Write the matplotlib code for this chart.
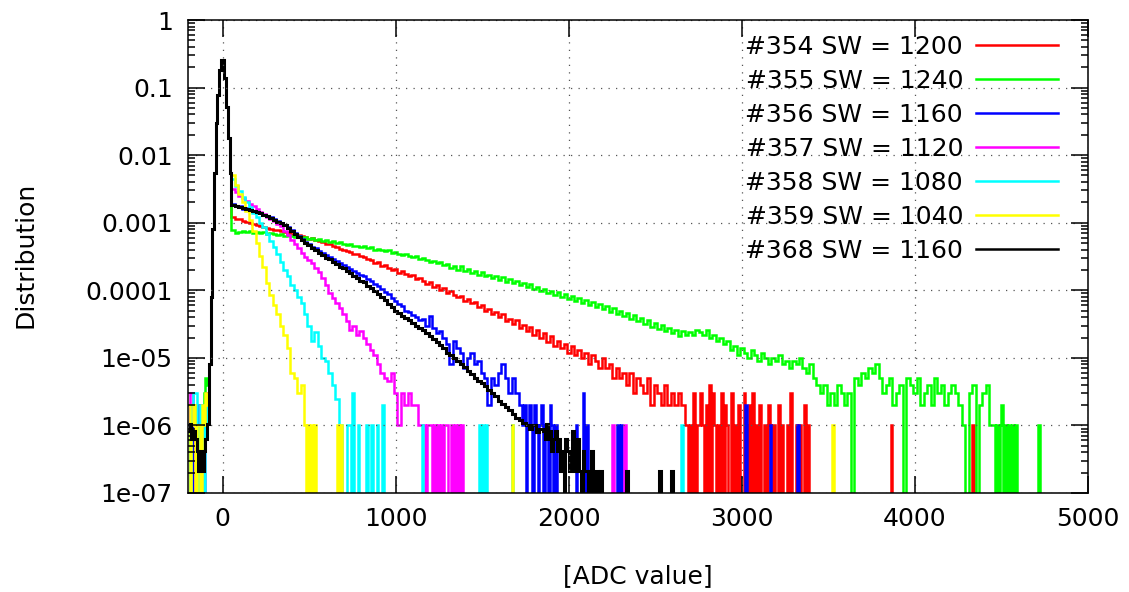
import numpy as np
import matplotlib
matplotlib.use('Agg')
import matplotlib.pyplot as plt
from matplotlib.lines import Line2D
from matplotlib.ticker import LogLocator, NullFormatter

labels = ['#354 SW = 1200', '#355 SW = 1240', '#356 SW = 1160', '#357 SW = 1120',
          '#358 SW = 1080', '#359 SW = 1040', '#368 SW = 1160']
colors = ['#ff0000', '#00ff00', '#0000ff', '#ff00ff', '#00ffff', '#ffff00', '#000000']

# pedestal peak, 10 ADC bins from -80 to 50 (same for every run)
peak = [8e-6, 8e-5, 8e-4, 5.4e-3, 0.03, 0.078, 0.18, 0.255, 0.255, 0.138, 0.052, 0.018, 0.0054]

# counts per 10 ADC bin from -200 to -80
red_left = [0, 1, 0, 1, 0, 0, 1, 2, 1, 1, 2, 3]
green_left = [0, 1, 0, 2, 1, 0, 1, 2, 1, 3, 5, 4]
blue_left = [2, 1, 0, 1, 1, 2, 0, 1, 2, 1, 2, 3]
magenta_left = [1, 3, 3, 1, 0, 1, 0, 2, 1, 0, 2, 3]
cyan_left = [1, 0, 2, 3, 3, 1, 0, 2, 1, 0, 1, 2]
yellow_left = [2, 0, 1, 2, 0, 1, 1, 0, 2, 1, 3, 2]
black_left = [4, 5, 3, 4, 3, 2, 1, 2, 1, 2, 3, 5]

# main slope, 20 ADC bins from 50, in units of 1e-6
red_main = [1220, 1150, 1120, 1060, 1040, 980, 960, 920, 890, 870, 830, 820, 780, 790, 750, 730,
            710, 690, 680, 650, 630, 610, 580, 590, 550, 540, 510, 490, 480, 450, 440, 410, 400,
            380, 370, 350, 340, 320, 310, 290,
            280, 250, 260, 230, 240, 215, 200, 205, 180, 190, 175, 160, 168, 145, 150, 138, 125,
            132, 112, 118, 100, 108, 92, 96, 85, 80, 82, 70, 74, 64, 66, 56, 60, 50, 53, 45, 48,
            40, 44, 35, 38, 32, 36, 28, 31, 25, 29, 22, 26, 20, 23, 17, 21, 15, 18, 14, 16, 12,
            15, 11, 13, 10, 12, 8, 11, 9, 7, 10, 7, 8, 5, 7, 5, 6, 4, 6, 3, 5, 4, 3, 5, 2, 4, 3,
            2, 4, 2, 3, 2, 3, 2, 1]
green_main = [780, 700, 740, 760, 720, 750, 710, 730, 700, 720, 680, 710, 690, 660, 680, 640, 660,
              630, 620, 640, 600, 610, 580, 590, 560, 570, 540, 550, 520, 530, 500, 510, 490, 470,
              480, 450, 460, 440, 450, 420, 430, 400, 410, 390, 380, 390, 360, 370, 350, 330, 340,
              320, 310, 320, 290, 300, 280, 260, 270, 250,
              265, 235, 245, 215, 230, 200, 225, 190, 205, 180, 195, 168, 185, 160, 170, 150, 162,
              140, 155, 132, 145, 128, 138, 118, 128, 110, 122, 104, 112, 96, 106, 90, 98, 86, 94,
              80, 88, 74, 82, 70, 77, 64, 72, 60, 66, 56, 62, 52, 58, 48, 54, 44, 50, 41, 46, 38,
              43, 35, 39, 32, 36, 29, 33, 27, 31, 25, 28, 23, 26, 21, 25, 22, 24,
              22, 26, 24, 22, 26, 20, 22, 18, 20, 16, 18, 13, 15,
              11, 14, 12, 10, 13, 11, 9, 12, 10, 8, 10, 9, 11, 8, 9, 7, 9, 8, 10, 7, 6, 8, 5, 4,
              3, 4, 2, 3, 2, 4, 3, 2, 3, 0, 5, 4, 6, 5, 7, 6, 8, 5, 3, 4, 5, 2, 3, 4, 0, 5, 4, 3,
              5, 2, 3, 4, 2, 5, 3, 4, 2, 3, 4, 3, 2, 1, 0, 3, 4, 0, 2, 3, 4, 1]
blue_main = [1900, 1780, 1740, 1620, 1640, 1520, 1500, 1400, 1380, 1280, 1260, 1200, 1120, 1060,
             1000, 940, 860, 790, 700, 640, 580, 520, 490, 440, 420, 380, 360, 330, 310, 290, 270,
             250, 240, 220, 210, 195, 180, 170, 160, 145, 138, 125, 115, 105, 95, 88, 76, 70, 62,
             58, 50, 48, 43, 40, 36, 38, 30, 42, 28, 23, 25, 20, 16, 8, 18, 14, 12, 7, 10, 12, 8,
             9, 6, 5, 2, 5, 4, 6, 8, 5, 3, 5, 3, 2]
magenta_main = [3200, 2800, 2500, 2300, 2100, 1900, 1750, 1600, 1450, 1350, 1200, 1150, 1050, 950,
                880, 760, 650, 560, 480, 420, 360, 310, 280, 250, 215, 185, 150, 120, 92, 76, 65,
                55, 45, 35, 26, 30, 22, 25, 20, 16, 13, 11, 8, 6, 5, 4.5, 6, 3, 1, 3, 2, 3, 2, 2, 1]
cyan_main = [4500, 3500, 2900, 2400, 2000, 1700, 1400, 1200, 1000, 850, 680, 540, 430, 340, 260,
             200, 160, 120, 100, 80, 65, 45, 30, 18, 24, 15, 10, 9, 6, 4, 2.5, 1]
yellow_main = [5000, 3600, 2700, 2000, 1500, 1100, 750, 500, 320, 220, 130, 85, 60, 45, 30, 22,
               14, 6, 5, 3, 4]
black_main = [1820, 1760, 1730, 1660, 1610, 1550, 1490, 1440, 1370, 1300, 1250, 1180, 1110, 1040,
              980, 910, 845, 760, 690, 610, 555, 500, 465, 420, 392, 360, 332, 305, 287, 260, 242,
              224, 212, 194, 181, 164, 152, 137, 131, 117, 109, 97, 89, 80, 71, 63, 57, 50, 46,
              42, 39, 36, 33, 30, 28, 26, 23, 21, 19, 17, 15.5, 14, 12, 11, 10, 9, 8, 7.2, 6.4,
              5.8, 5, 4.6, 4.2, 3.8, 3.3, 3, 2.7, 2.3, 2.1, 1.9, 1.7, 1.5, 1.3, 1.2, 1.1, 1.0,
              0.9, 1.0, 0.8, 0.9]

# counts per 10 ADC bin right after the main slope
red_tail = [0, 1, 0, 3, 0, 1, 1, 3, 1, 0, 2, 0, 4, 0, 3, 1, 0, 1, 0, 3, 0, 2, 1, 0, 0, 3, 0, 1, 0,
            2, 0, 0, 3, 1, 0, 2, 0, 3, 0, 1, 0, 2, 0, 0, 1, 0, 2, 1, 0, 1, 0, 0, 2, 0, 1, 0, 0, 1,
            0, 3, 0, 0, 1, 0, 1, 0, 0, 2, 0, 1]
green_tail = [1, 0, 1, 0, 1, 2, 0, 1, 0, 1, 0, 1, 0, 1]
blue_tail = [1, 2, 0, 1, 2, 1, 0, 2, 1, 0, 1, 2, 0, 1, 1, 0, 2, 1, 0, 1]
magenta_tail = [1, 1, 0, 1, 1, 1, 0, 1, 0, 1, 0, 1, 0, 1, 1, 0, 0, 1, 0, 1, 0, 1, 0, 1]
cyan_tail = []
yellow_tail = [1, 0, 1, 0, 1, 0, 1, 0]
black_tail = [4, 3, 5, 3, 4, 2, 3, 4, 2, 3, 1, 2, 0, 3, 2, 1, 2, 4, 1, 2, 3, 1, 0, 2, 1, 1, 0, 1,
              2, 0, 1, 1, 0, 1]

# isolated bins far out: (ADC, counts)
red_spikes = [(3860, 1), (4330, 1)]
green_spikes = [(4710, 1)]
blue_spikes = [(2040, 1), (2080, 3), (2100, 1), (2280, 1), (2300, 1), (3020, 2), (3160, 1), (3320, 1)]
magenta_spikes = [(2250, 1), (2320, 1)]
cyan_spikes = [(720, 1), (730, 1), (750, 3), (780, 1), (830, 1), (860, 1), (890, 1), (920, 2),
               (1150, 1), (1480, 1), (1500, 1), (1520, 1), (1670, 1), (2650, 1)]
yellow_spikes = [(660, 1), (680, 1), (1670, 1), (3520, 1)]
black_spikes = [(2330, 1), (2520, 1), (2590, 1)]

units = [1e-6, 1e-6, 1e-6, 1e-6, 1e-6, 1e-6, 2.1e-7]

runs = [
    (red_left, red_main, red_tail, red_spikes),
    (green_left, green_main, green_tail, green_spikes),
    (blue_left, blue_main, blue_tail, blue_spikes),
    (magenta_left, magenta_main, magenta_tail, magenta_spikes),
    (cyan_left, cyan_main, cyan_tail, cyan_spikes),
    (yellow_left, yellow_main, yellow_tail, yellow_spikes),
    (black_left, black_main, black_tail, black_spikes),
]


def histogram(left, main, tail, spikes, unit):
    edges = [-200 + 10 * i for i in range(len(left) + len(peak) + 1)]
    vals = [n * unit for n in left] + list(peak)
    for v in main:
        edges.append(edges[-1] + 20)
        vals.append(v * 1e-6)
    for n in tail:
        edges.append(edges[-1] + 10)
        vals.append(n * unit)
    for pos, n in spikes:
        if pos > edges[-1]:
            edges.append(pos)
            vals.append(0)
        edges.append(pos + 10)
        vals.append(n * unit)
    edges.append(5000)
    vals.append(0)
    vals = np.array(vals, dtype=float)
    vals[vals <= 0] = 1e-12
    return np.array(edges, dtype=float), vals


plt.rcParams['font.family'] = 'DejaVu Sans'
fig = plt.figure(figsize=(11.29, 5.92), dpi=100)
ax = fig.add_axes([188 / 1129, 1 - 493 / 592, 900 / 1129, 473 / 592])

for (left, main, tail, spikes), unit, c in zip(runs, units, colors):
    edges, vals = histogram(left, main, tail, spikes, unit)
    lw = 2.2 if c == '#000000' else 1.8
    ax.stairs(vals, edges, color=c, lw=lw, baseline=None)

ax.set_yscale('log')
ax.set_xlim(-200, 5000)
ax.set_ylim(1e-7, 1)
ax.set_xticks([0, 1000, 2000, 3000, 4000, 5000])
ax.set_yticks([1e-7, 1e-6, 1e-5, 1e-4, 1e-3, 1e-2, 1e-1, 1],
              ['1e-07', '1e-06', '1e-05', '0.0001', '0.001', '0.01', '0.1', '1'])
ax.yaxis.set_minor_locator(LogLocator(base=10, subs=range(2, 10)))
ax.yaxis.set_minor_formatter(NullFormatter())
ax.tick_params(which='both', direction='in', top=True, right=True, width=1.1)
ax.tick_params(axis='x', which='major', length=12, labelsize=18, pad=10)
ax.tick_params(axis='y', which='major', length=12, labelsize=18, pad=11)
ax.tick_params(which='minor', length=5)
for s in ax.spines.values():
    s.set_linewidth(1.1)
ax.grid(True, which='major', linestyle=(0, (1, 5)), color='#555555', lw=0.9)

handles = [Line2D([], [], color=c, lw=1.8) for c in colors]
fig.legend(handles, labels, loc='upper right', bbox_to_anchor=(1058 / 1129, 1 - 35 / 592),
           frameon=False, markerfirst=False, handlelength=3.3, handletextpad=0.5,
           labelspacing=0.4, borderpad=0, borderaxespad=0, fontsize=18)

fig.text(26 / 1129, 1 - 255 / 592, 'Distribution', rotation=90, ha='center', va='center', fontsize=18)
fig.text(638 / 1129, 1 - 576 / 592, '[ADC value]', ha='center', va='center', fontsize=18)

fig.savefig('out.png', dpi=100)
